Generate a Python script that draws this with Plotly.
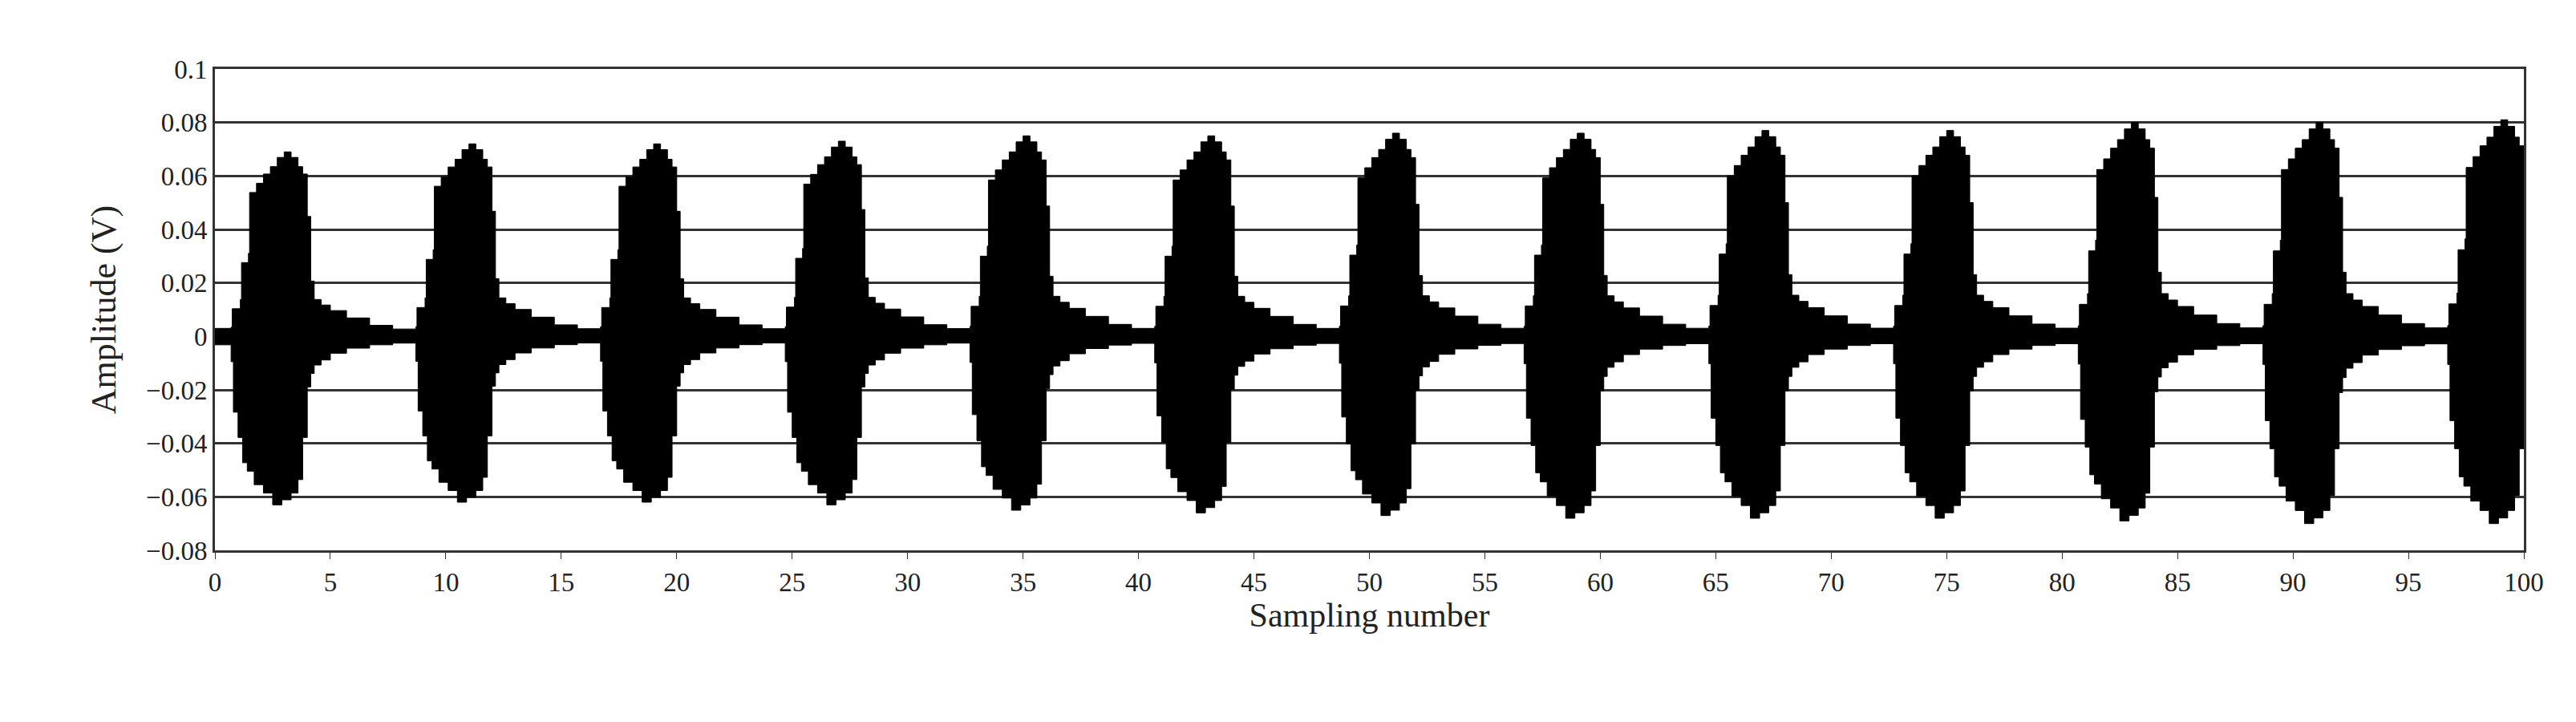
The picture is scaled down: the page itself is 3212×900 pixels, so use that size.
import plotly.graph_objects as go

# burst onsets (sampling number) and peak amplitudes
burst_start = [0.7, 8.7, 16.7, 24.7, 32.7, 40.7, 48.7, 56.7, 64.7, 72.7, 80.7, 88.7, 96.7]
peak_up = [0.069, 0.072, 0.072, 0.073, 0.075, 0.075, 0.076, 0.076, 0.077, 0.077, 0.080, 0.080, 0.081]
peak_dn = [0.063, 0.062, 0.062, 0.063, 0.065, 0.066, 0.067, 0.068, 0.068, 0.068, 0.069, 0.070, 0.070]

# envelope shape of one burst (offset from onset, fraction of peak)
up_off = [0.0, 0.05, 0.4, 0.45, 0.75, 0.8, 1.1, 1.4, 1.7, 2.0, 2.3, 2.6, 2.9, 3.1, 3.3, 3.45, 3.6, 3.9, 4.3, 5.0, 6.0, 7.0, 8.0]
up_frac = [0.05, 0.15, 0.2, 0.4, 0.45, 0.78, 0.83, 0.88, 0.92, 0.97, 1.0, 0.97, 0.92, 0.88, 0.65, 0.3, 0.2, 0.17, 0.14, 0.1, 0.06, 0.04, 0.04]
dn_off = [0.0, 0.1, 0.3, 0.5, 0.7, 1.0, 1.4, 1.8, 2.2, 2.6, 2.9, 3.1, 3.3, 3.45, 3.6, 3.9, 4.3, 5.0, 6.0, 7.0, 8.0]
dn_frac = [0.05, 0.15, 0.45, 0.6, 0.75, 0.8, 0.88, 0.93, 1.0, 0.97, 0.93, 0.85, 0.6, 0.3, 0.22, 0.17, 0.14, 0.1, 0.07, 0.05, 0.04]

x_up, y_up, x_dn, y_dn = [0.0], [0.003], [0.0], [-0.003]
for s, pu, pd in zip(burst_start, peak_up, peak_dn):
    for o, f in zip(up_off, up_frac):
        if s + o <= 100:
            x_up.append(s + o); y_up.append(pu * f)
    for o, f in zip(dn_off, dn_frac):
        if s + o <= 100:
            x_dn.append(s + o); y_dn.append(-pd * f)

xs = x_up + x_dn[::-1]
ys = y_up + y_dn[::-1]

fig = go.Figure()
fig.add_trace(go.Scatter(x=xs, y=ys, fill='toself', fillcolor='black',
                         mode='lines', line=dict(color='black', width=1, shape='hv'),
                         showlegend=False))

fig.update_layout(
    width=3212, height=900, plot_bgcolor='white', paper_bgcolor='white',
    margin=dict(l=260, r=73, t=78, b=222),
    font=dict(family='Liberation Serif', size=33, color='#222'),
    xaxis=dict(range=[0, 100], tickvals=list(range(0, 101, 5)), showgrid=False,
               showline=True, linecolor='#333', linewidth=3, mirror=True,
               ticks='outside', ticklen=8, tickcolor='#333', zeroline=False,
               title=dict(text='Sampling number', font=dict(size=42), standoff=6)),
    yaxis=dict(range=[-0.08, 0.1], dtick=0.02, showgrid=True, gridcolor='#333', gridwidth=3,
               showline=True, linecolor='#333', linewidth=3, mirror=True,
               zeroline=False, ticks='', tickformat='~g',
               title=dict(text='Amplitude (V)', font=dict(size=44), standoff=24)),
)
fig.write_html("out.html")
